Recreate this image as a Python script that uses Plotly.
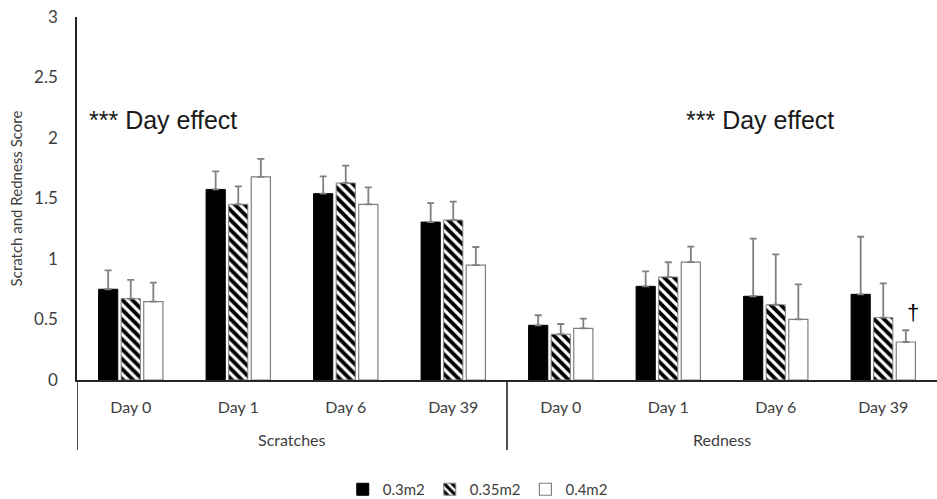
import plotly.graph_objects as go

group_labels = ["Scratches", "Redness"]
days = ["Day 0", "Day 1", "Day 6", "Day 39"] * 2
positions = list(range(len(days)))
series_names = ["0.3m2", "0.35m2", "0.4m2"]

vals_03 = [0.75, 1.575, 1.54, 1.305, 0.452, 0.774, 0.692, 0.708]
err_03 = [0.156, 0.15, 0.143, 0.157, 0.083, 0.124, 0.476, 0.476]
vals_035 = [0.672, 1.452, 1.628, 1.322, 0.378, 0.851, 0.622, 0.515]
err_035 = [0.156, 0.149, 0.143, 0.152, 0.085, 0.122, 0.417, 0.284]
vals_04 = [0.647, 1.678, 1.452, 0.950, 0.427, 0.975, 0.501, 0.314]
err_04 = [0.157, 0.15, 0.14, 0.149, 0.08, 0.127, 0.29, 0.097]

y_ticks = [0, 0.5, 1, 1.5, 2, 2.5, 3]
y_ticktext = ["0", "0.5", "1", "1.5", "2", "2.5", "3"]

TICKFONT = "Lato, 'Open Sans', sans-serif"
TXT = "#404040"
ERRC = "#808080"
AXC = "#262626"

W, H = 937, 499
ML, MT, MB = 77, 17, 119

fig = go.Figure()
fig.add_trace(go.Bar(
    x=positions, y=vals_03, name=series_names[0],
    marker=dict(color="black", line=dict(color="black", width=1)),
    error_y=dict(type="data", array=err_03, symmetric=False, arrayminus=[0] * 8,
                 color=ERRC, thickness=1.8, width=3.5),
))
fig.add_trace(go.Bar(
    x=positions, y=vals_035, name=series_names[1],
    marker=dict(color="white", line=dict(color="#7f7f7f", width=1),
                pattern=dict(shape="\\", fgcolor="#000000", bgcolor="#ffffff",
                             fgopacity=1, size=7, solidity=0.55)),
    error_y=dict(type="data", array=err_035, symmetric=False, arrayminus=[0] * 8,
                 color=ERRC, thickness=1.8, width=3.5),
))
fig.add_trace(go.Bar(
    x=positions, y=vals_04, name=series_names[2],
    marker=dict(color="white", line=dict(color="#7f7f7f", width=1.2)),
    error_y=dict(type="data", array=err_04, symmetric=False, arrayminus=[0] * 8,
                 color=ERRC, thickness=1.8, width=3.5),
))

plot_h = H - MT - MB

fig.update_layout(
    width=W, height=H,
    margin=dict(l=ML, r=0, t=MT, b=MB, autoexpand=False),
    paper_bgcolor="white", plot_bgcolor="white",
    barmode="group", bargap=0.37, bargroupgap=0.15,
    showlegend=True,
    legend=dict(orientation="h", x=0.466, xanchor="center", y=-93 / plot_h, yanchor="top",
                font=dict(family=TICKFONT, size=15, color=TXT),
                itemwidth=30, tracegroupgap=0),
    font=dict(family=TICKFONT, color=TXT),
)

fig.update_yaxes(
    range=[0, 3], tickvals=y_ticks, ticktext=y_ticktext,
    showgrid=False, zeroline=False, automargin=False,
    showline=True, linecolor=AXC, linewidth=1.6,
    ticks="", ticklabelstandoff=14, ticklabeloverflow="allow",
    tickfont=dict(family=TICKFONT, size=17, color=TXT),
    title=dict(text="Scratch and Redness Score", standoff=8,
               font=dict(family=TICKFONT, size=15, color=TXT)),
)
fig.update_xaxes(
    range=[-0.5, len(days) - 0.5], tickvals=positions, ticktext=days,
    automargin=False, showgrid=False, zeroline=False,
    showline=True, linecolor=AXC, linewidth=1.6,
    ticks="", ticklabelstandoff=12,
    tickfont=dict(family=TICKFONT, size=16, color=TXT),
)

# group labels and group dividers under the axis
div_bottom = -70 / plot_h
for i, lab in enumerate(group_labels):
    fig.add_annotation(text=lab, xref="x", yref="paper", x=1.5 + 4 * i, y=-60 / plot_h,
                       xanchor="center", yanchor="middle", showarrow=False,
                       font=dict(family=TICKFONT, size=16, color=TXT))
for xd in [-0.5, 3.5]:
    fig.add_shape(type="line", xref="x", yref="paper", x0=xd, x1=xd, y0=0, y1=div_bottom,
                  line=dict(color=AXC, width=1.6))

ann_font = dict(family="'Liberation Sans', Arial, sans-serif", size=25, color="#1a1a1a")
fig.add_annotation(text="*** Day effect", xref="paper", yref="y", x=0.1, y=2.15,
                   xanchor="center", yanchor="middle", showarrow=False, font=ann_font)
fig.add_annotation(text="*** Day effect", xref="paper", yref="y", x=0.794, y=2.15,
                   xanchor="center", yanchor="middle", showarrow=False, font=ann_font)
fig.add_annotation(text="†", xref="paper", yref="y", x=0.972, y=0.554,
                   xanchor="center", yanchor="middle", showarrow=False,
                   font=dict(family="'Liberation Sans', Arial, sans-serif", size=22, color="#000000"))

fig.write_html("out.html",
               config={"displayModeBar": False},
               post_script="document.body.style.margin='0';document.body.style.overflow='hidden';")
